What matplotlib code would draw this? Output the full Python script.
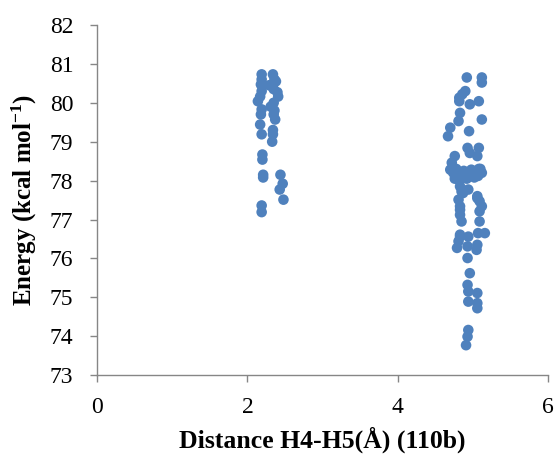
import matplotlib
matplotlib.use("Agg")
import matplotlib.pyplot as plt

# H4-H5 distance (Å) and energy (kcal/mol) for the sampled conformers of 110b
distance_short = [2.19, 2.19, 2.18, 2.19, 2.17, 2.14, 2.19, 2.18, 2.17, 2.19,
                  2.20, 2.20, 2.21, 2.21, 2.19, 2.19,
                  2.34, 2.36, 2.38, 2.35, 2.40, 2.41, 2.35, 2.36, 2.35, 2.37,
                  2.34, 2.34, 2.33, 2.29, 2.31,
                  2.44, 2.47, 2.43, 2.48]
energy_short = [80.73, 80.60, 80.47, 80.30, 80.16, 80.04, 79.83, 79.70, 79.44, 79.19,
                78.67, 78.54, 78.15, 78.08, 77.36, 77.19,
                80.73, 80.60, 80.55, 80.35, 80.27, 80.16, 80.00, 79.80, 79.70, 79.57,
                79.30, 79.19, 79.00, 80.45, 79.90,
                78.15, 77.92, 77.77, 77.51]

distance_long = [4.92, 5.12, 5.12, 4.90, 4.86, 4.82, 4.82, 4.96, 5.08,
                 4.83, 4.81, 5.12, 4.70, 4.67, 4.95,
                 4.93, 4.96, 5.08, 5.06, 4.76, 4.72,
                 4.70, 4.74, 4.78, 4.83, 4.88, 4.93, 4.98, 5.03, 5.08, 5.12,
                 4.76, 4.82, 4.87, 4.92, 4.97, 5.02, 5.07, 5.10,
                 4.83, 4.85, 4.94, 5.06, 4.81, 5.12, 4.83,
                 4.87, 5.06, 4.83, 5.09,
                 4.83, 5.09, 4.85, 5.09, 4.83,
                 4.83, 4.94, 5.07, 5.16, 4.81, 4.79, 4.93, 5.06, 5.05, 4.93,
                 4.96, 4.93, 4.94, 5.06, 4.94, 5.06, 5.06,
                 4.94, 4.93, 4.91]
energy_long = [80.65, 80.65, 80.52, 80.30, 80.22, 80.13, 80.04, 79.96, 80.04,
               79.74, 79.53, 79.57, 79.36, 79.14, 79.27,
               78.84, 78.71, 78.84, 78.63, 78.63, 78.46,
               78.28, 78.20, 78.30, 78.15, 78.25, 78.10, 78.28, 78.18, 78.30, 78.20,
               78.05, 78.00, 78.10, 78.05, 78.18, 78.08, 78.12, 78.30,
               77.85, 77.72, 77.77, 77.60, 77.51, 77.34, 77.34,
               77.68, 77.55, 77.25, 77.47,
               77.12, 77.21, 76.95, 76.95, 76.61,
               76.56, 76.56, 76.65, 76.65, 76.44, 76.27, 76.31, 76.35, 76.22, 76.01,
               75.62, 75.32, 75.15, 75.11, 74.89, 74.85, 74.72,
               74.16, 73.99, 73.77]

x_ticks = [0, 2, 4, 6]
y_ticks = [73, 74, 75, 76, 77, 78, 79, 80, 81, 82]

plt.rcParams["font.family"] = ["Liberation Serif", "DejaVu Serif"]
plt.rcParams["mathtext.fontset"] = "custom"
plt.rcParams["mathtext.rm"] = "Liberation Serif"
plt.rcParams["mathtext.bf"] = "Liberation Serif:bold"

fig = plt.figure(figsize=(5.58, 4.62), dpi=100)
ax = fig.add_axes([0.174, 0.188, 0.808, 0.758])

color = "#4F81BD"
ax.scatter(distance_short + distance_long, energy_short + energy_long,
           s=58, color=color, edgecolors="none", zorder=3)

ax.set_xlim(0, 6)
ax.set_ylim(73, 82)
ax.set_xticks(x_ticks)
ax.set_yticks(y_ticks)

axis_gray = "#868686"
for side in ("top", "right"):
    ax.spines[side].set_visible(False)
for side in ("left", "bottom"):
    ax.spines[side].set_color(axis_gray)
    ax.spines[side].set_linewidth(1.0)
ax.tick_params(axis="both", direction="out", length=5, width=1.0,
               color=axis_gray, labelsize=17, labelcolor="black")
ax.tick_params(axis="x", pad=10.5)
ax.tick_params(axis="y", pad=12)

ax.set_xlabel("Distance H4-H5(Å) (110b)", fontsize=18.5, fontweight="bold")
ax.set_ylabel(r"Energy (kcal mol$\mathbf{^{-1}}$)", fontsize=18, fontweight="bold")
ax.xaxis.set_label_coords(0.5, -0.148)
ax.yaxis.set_label_coords(-0.128, 0.5)

fig.savefig("out.png", dpi=100)
